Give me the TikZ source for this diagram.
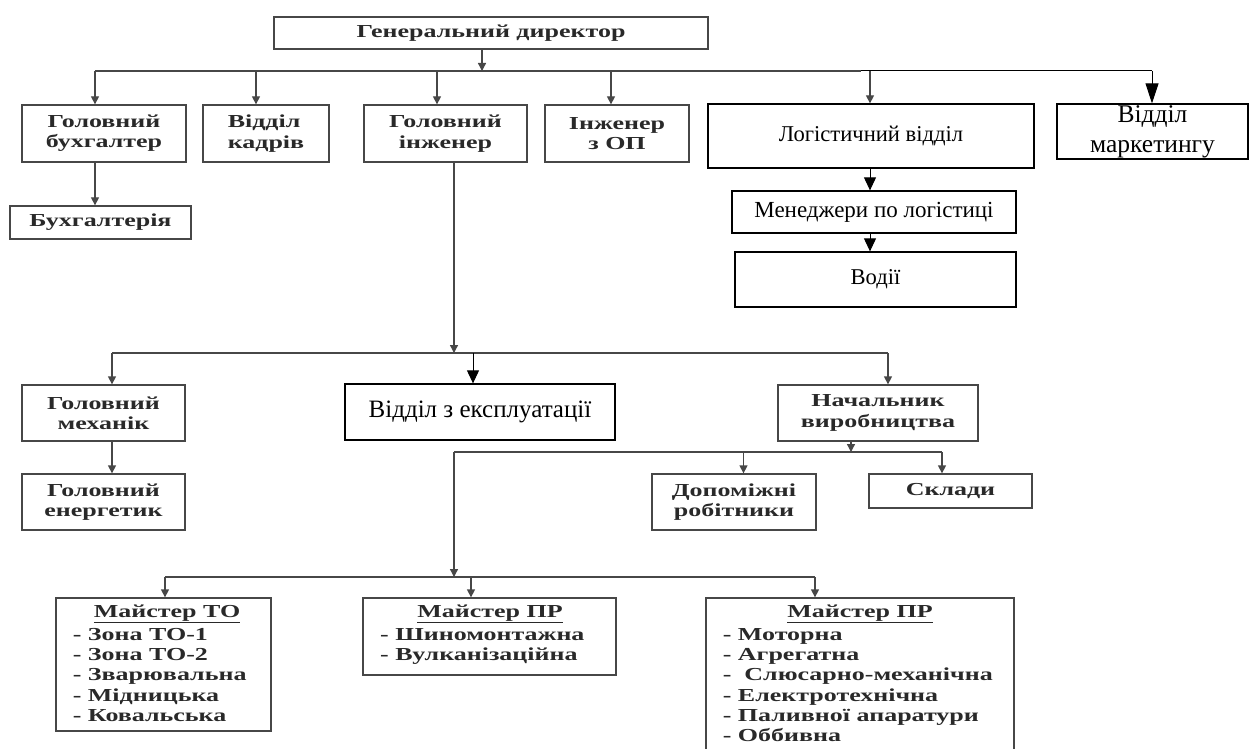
\documentclass[tikz,border=0pt]{standalone}
\usepackage{fontspec}
\setmainfont{Liberation Serif}
\newfontfamily\scanfont[FakeStretch=1.42]{Liberation Serif}
\usetikzlibrary{arrows.meta}
\definecolor{scanline}{gray}{0.28}
\definecolor{scantext}{gray}{0.16}
\begin{document}
\begin{tikzpicture}[x=1pt,y=-1pt,
  scanfnt/.style={font=\scanfont\bfseries\fontsize{18.3}{20.3}\selectfont, text=scantext},
  scanbox/.style={scanfnt, draw=scanline, line width=1.3pt, inner sep=0pt, align=center},
  logbox/.style={draw=black, line width=1.3pt, inner sep=0pt, align=center, font=\fontsize{22.6}{27}\selectfont},
  listtxt/.style={scanfnt, inner sep=0pt, align=left},
  sline/.style={draw=scanline, line width=1.3pt},
  sarr/.style={sline, -{Triangle[length=8pt,width=8pt]}},
  bline/.style={draw=black, line width=1pt},
  barr/.style={bline, -{Triangle[length=13pt,width=12pt]}},
]
\useasboundingbox (0,0) rectangle (1251,749);

% top level
\node[scanbox, minimum width=434, minimum height=32] (dir) at (491,33) {Генеральний директор};

% second level
\node[scanbox, minimum width=164, minimum height=57] (buh)  at (104,133.5) {Головний\\бухгалтер};
\node[scanbox, minimum width=126, minimum height=57, align=left] (kadr) at (266,133.5) {Відділ\\кадрів};
\node[scanbox, minimum width=163, minimum height=57] (inzh) at (445.5,133.5) {Головний\\інженер};
\node[scanbox, minimum width=144, minimum height=57] (op)   at (617,133.5) {Інженер\\з ОП};
\node[logbox, minimum width=326, minimum height=64] (log)  at (871,136) {Логістичний відділ};
\node[logbox, minimum width=191, minimum height=55, font=\fontsize{25.5}{30}\selectfont] (mark) at (1152.5,131.5) {Відділ\\маркетингу};

\node[scanbox, minimum width=181, minimum height=33] (buhg) at (100.5,222.5) {Бухгалтерія};
\node[logbox, minimum width=284, minimum height=42, font=\fontsize{23}{27}\selectfont] (men) at (874,212) {Менеджери по логістиці};
\node[logbox, minimum width=281, minimum height=55] (vod) at (875.5,279.5) {Водії};

% third level
\node[scanbox, minimum width=163, minimum height=56] (mech)  at (103.5,413) {Головний\\механік};
\node[scanbox, minimum width=163, minimum height=56] (energ) at (103.5,502) {Головний\\енергетик};
\node[logbox, minimum width=270, minimum height=56, font=\fontsize{25}{30}\selectfont] (expl) at (480,412) {Відділ з експлуатації};
\node[scanbox, minimum width=200, minimum height=56] (nach)  at (878,413) {Начальник\\виробництва};
\node[scanbox, minimum width=164, minimum height=56] (dop)   at (734,502) {Допоміжні\\робітники};
\node[scanbox, minimum width=163, minimum height=34] (skl)   at (950.5,491) {Склади};

% foremen
\node[scanbox, minimum width=215, minimum height=133] (mto)  at (163.5,664.5) {};
\node[scanbox, minimum width=253, minimum height=77]  (mpr1) at (489.5,636.5) {};
\node[scanbox, minimum width=308, minimum height=162] (mpr2) at (860,679) {};

\node[scanfnt, inner sep=0pt] (mtoH) at (167,614) {\underline{Майстер ТО}};
\node[listtxt, anchor=north west] (mtoL) at (72.6,628) {- Зона ТО-1\\- Зона ТО-2\\- Зварювальна\\- Мідницька\\- Ковальська};
\node[scanfnt, inner sep=0pt] (mpr1H) at (490,614) {\underline{Майстер ПР}};
\node[listtxt, anchor=north west] (mpr1L) at (380,628) {- Шиномонтажна\\- Вулканізаційна};
\node[scanfnt, inner sep=0pt] (mpr2H) at (860,614) {\underline{Майстер ПР}};
\node[listtxt, anchor=north west] (mpr2L) at (722.6,628) {- Моторна\\- Агрегатна\\-\ \ Слюсарно-механічна\\- Електротехнічна\\- Паливної апаратури\\- Оббивна};

% bus under the director
\coordinate (b1L) at (95,71);
\coordinate (b1M) at (861,71);
\coordinate (b1R) at (1152,71);
\coordinate (dx) at (482,71);
\coordinate (kx) at (256,71);
\coordinate (ix) at (437,71);
\coordinate (ox) at (611,71);
\coordinate (lx) at (870,71);
\draw[sline] (b1L) -- (b1M);
\draw[bline] (b1M) -- (b1R);
\draw[sarr] (dx |- dir.south) -- (dx);
\draw[sarr] (b1L) -- (b1L |- buh.north);
\draw[sarr] (kx) -- (kx |- kadr.north);
\draw[sarr] (ix) -- (ix |- inzh.north);
\draw[sarr] (ox) -- (ox |- op.north);
\draw[sarr] (lx) -- (lx |- log.north);
\draw[barr, -{Triangle[length=20pt,width=13pt]}] (b1R) -- (b1R |- mark.north);

% accounting and logistics chains
\draw[sarr] (b1L |- buh.south) -- (b1L |- buhg.north);
\draw[barr] (lx |- log.south) -- (lx |- men.north);
\draw[barr] (lx |- men.south) -- (lx |- vod.north);

% bus under the chief engineer
\coordinate (e2) at (454,353);
\coordinate (b2L) at (112,353);
\coordinate (b2R) at (888,353);
\coordinate (ex) at (473,353);
\draw[sarr] (e2 |- inzh.south) -- (e2);
\draw[sline] (b2L) -- (b2R);
\draw[sarr] (b2L) -- (b2L |- mech.north);
\draw[sarr] (b2R) -- (b2R |- nach.north);
\draw[barr] (ex) -- (ex |- expl.north);
\draw[sarr] (b2L |- mech.south) -- (b2L |- energ.north);

% bus under the head of production
\coordinate (b3L) at (454,452);
\coordinate (b3R) at (942,452);
\coordinate (nx) at (851,452);
\coordinate (px) at (743.5,452);
\draw[sarr] (nx |- nach.south) -- (nx);
\draw[sline] (b3L) -- (b3R);
\draw[sarr] (px) -- (px |- dop.north);
\draw[sarr] (b3R) -- (b3R |- skl.north);

% bus over the foremen
\coordinate (b4) at (454,577);
\coordinate (b4L) at (165,577);
\coordinate (b4R) at (815,577);
\coordinate (mx) at (471,577);
\draw[sarr] (b3L) -- (b4);
\draw[sline] (b4L) -- (b4R);
\draw[sarr] (b4L) -- (b4L |- mto.north);
\draw[sarr] (mx) -- (mx |- mpr1.north);
\draw[sarr] (b4R) -- (b4R |- mpr2.north);
\end{tikzpicture}
\end{document}
